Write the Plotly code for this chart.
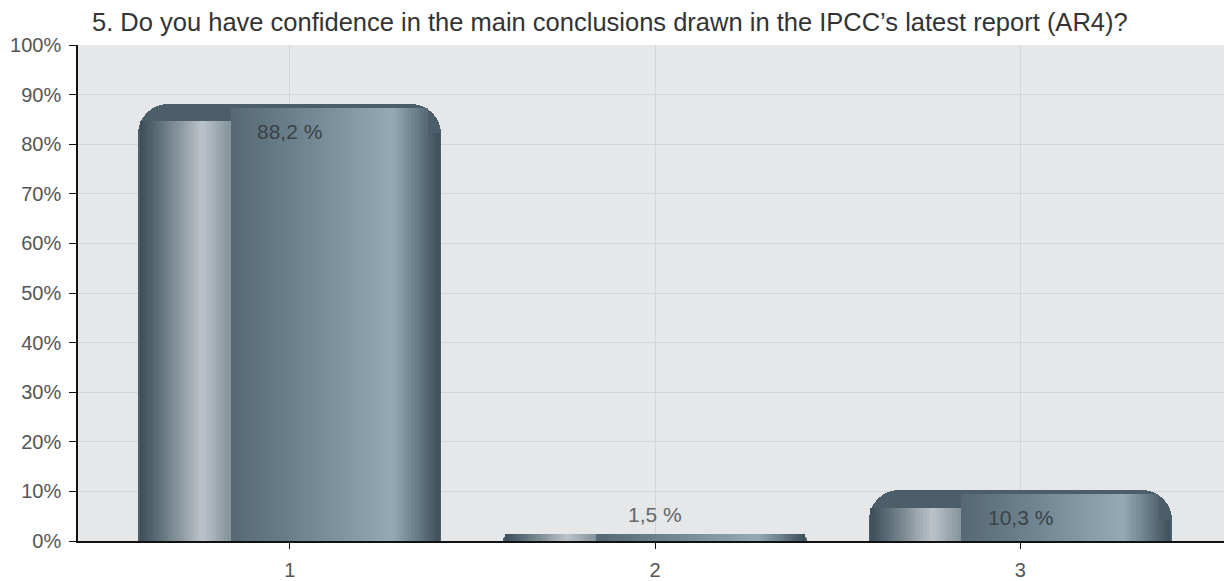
import plotly.graph_objects as go

# ---- data ----
categories = [1, 2, 3]
values = [88.2, 1.5, 10.3]
labels = ["88,2 %", "1,5 %", "10,3 %"]
y_ticks = [0, 10, 20, 30, 40, 50, 60, 70, 80, 90, 100]
y_tick_text = ["0%", "10%", "20%", "30%", "40%", "50%", "60%", "70%", "80%", "90%", "100%"]
x_tick_text = ["1", "2", "3"]
title_text = "5. Do you have confidence in the main conclusions drawn in the IPCC\u2019s latest report (AR4)?"

FONT = "Liberation Sans, Arial, sans-serif"
BAR_W = 0.83
W, H = 1224, 573  # page body has an 8px margin

# horizontal gradient stops (fraction of bar width, colour)
stops = [
    (0.00, (58, 75, 85)),
    (0.07, (95, 112, 122)),
    (0.21, (188, 195, 201)),
    (0.30, (135, 149, 157)),
    (0.31, (86, 105, 116)),
    (0.55, (112, 133, 145)),
    (0.84, (150, 170, 182)),
    (0.93, (98, 118, 129)),
    (1.00, (58, 75, 85)),
]


def colour_at(t):
    for (t0, c0), (t1, c1) in zip(stops[:-1], stops[1:]):
        if t0 <= t <= t1:
            f = 0 if t1 == t0 else (t - t0) / (t1 - t0)
            c = [round(a + (b - a) * f) for a, b in zip(c0, c1)]
            return "rgb(%d,%d,%d)" % tuple(c)
    return "rgb(58,75,85)"


def strip_height(v, t):
    if v <= 5:
        return v
    if t < 0.31:
        return v - 3.6      # recessed highlight face
    if t > 0.95:
        return v - 6.0      # stay under the rounded corner
    return v - 0.8          # dark rim along the top


fig = go.Figure()

# base rounded bar (dark rim)
fig.add_trace(go.Bar(
    x=categories, y=values, width=BAR_W,
    marker=dict(color="rgb(76,94,105)", cornerradius=30, line=dict(width=0)),
    hoverinfo="skip", showlegend=False,
))

# gradient strips
N = 96
t_start, t_end = 0.006, 0.994
sw = (t_end - t_start) / N
for i in range(N):
    t0 = t_start + i * sw
    t = t0 + sw / 2
    if abs(t - 0.31) < sw / 2:
        t = t0 + sw * 0.75
    fig.add_trace(go.Bar(
        x=categories, y=[strip_height(v, t) for v in values],
        width=sw * BAR_W * 1.15,
        offset=-BAR_W / 2 + t0 * BAR_W,
        marker=dict(color=colour_at(t), line=dict(width=0)),
        hoverinfo="skip", showlegend=False,
    ))

# value labels
for c, v, lab in zip(categories, values, labels):
    inside = v > 5
    fig.add_annotation(
        x=c, y=v, text=lab, showarrow=False,
        xanchor="center", yanchor="middle",
        yshift=-28 if inside else 19,
        font=dict(family=FONT, size=21, color="#3a4248" if inside else "#666"),
    )

fig.update_layout(
    width=W, height=H,
    barmode="overlay", bargap=0,
    paper_bgcolor="white", plot_bgcolor="#e5e7e9",
    margin=dict(l=70, r=0, t=37, b=40),
    title=dict(text=title_text, x=84 / W, xanchor="left", y=1 - 14 / H, yanchor="middle",
               font=dict(family=FONT, size=25.5, color="#333")),
    font=dict(family=FONT, size=20, color="#555"),
)
fig.update_xaxes(
    range=[0.42, 3.58], tickvals=categories, ticktext=x_tick_text,
    showgrid=True, gridcolor="#d3d5d7", gridwidth=1,
    showline=True, linecolor="#111", linewidth=1.5,
    ticks="outside", ticklen=6, tickcolor="#111", ticklabelstandoff=4,
    tickfont=dict(family=FONT, size=20, color="#555"), zeroline=False,
)
fig.update_yaxes(
    range=[0, 100], tickvals=y_ticks, ticktext=y_tick_text,
    showgrid=True, gridcolor="#d3d5d7", gridwidth=1,
    showline=True, linecolor="#111", linewidth=1.5,
    ticks="outside", ticklen=7, tickcolor="#111", ticklabelstandoff=4,
    tickfont=dict(family=FONT, size=20, color="#555"), zeroline=False,
)

fig.write_html("out.html")
